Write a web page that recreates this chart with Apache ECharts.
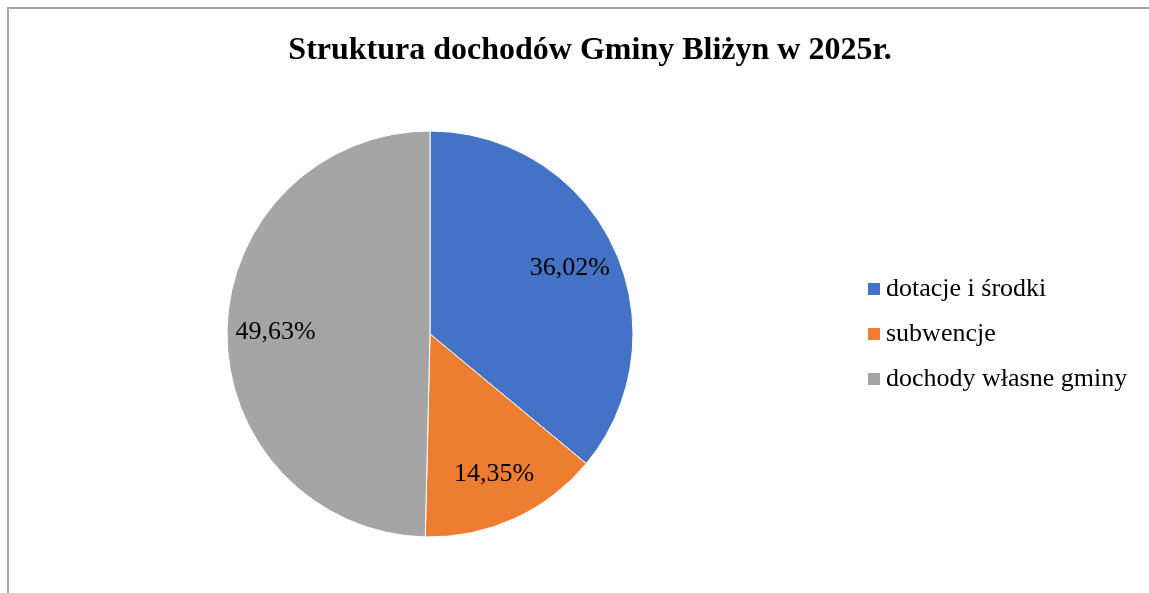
<!DOCTYPE html>
<html>
<head>
<meta charset="utf-8">
<script src="https://cdn.jsdelivr.net/npm/echarts@6/dist/echarts.min.js"></script>
<style>
  html, body { margin: 0; padding: 0; background: #fff; }
  #chart { width: 1149px; height: 593px; }
</style>
</head>
<body>
<div id="chart"></div>
<script>
const categories = ['dotacje i środki', 'subwencje', 'dochody własne gminy'];
const shares = [36.02, 14.35, 49.63];
const colors = ['#4472C4', '#ED7D31', '#A5A5A5'];

const pieData = categories.map((name, i) => ({ name: name, value: shares[i] }));
const fmt = p => p.value.toFixed(2).replace('.', ',') + '%';

let myChart = echarts.init(document.getElementById('chart'));
let option = {
  animation: false,
  color: colors,
  title: {
    text: 'Struktura dochodów Gminy Bliżyn w 2025r.',
    left: 585,
    top: 30,
    textAlign: 'center',
    textStyle: {
      fontFamily: 'Liberation Serif',
      fontWeight: 'bold',
      fontSize: 32,
      color: '#000'
    }
  },
  graphic: [
    {
      type: 'rect',
      shape: { x: 8, y: 8, width: 1300, height: 800 },
      style: { fill: 'none', stroke: '#a6a6a6', lineWidth: 2 },
      silent: true
    }
  ],
  legend: {
    orient: 'vertical',
    left: 866,
    top: 276,
    padding: 0,
    itemWidth: 14,
    itemHeight: 14,
    itemGap: 19,
    icon: 'rect',
    data: categories,
    textStyle: {
      fontFamily: 'Liberation Serif',
      fontSize: 26,
      color: '#000'
    }
  },
  series: [
    {
      type: 'pie',
      center: [430, 334],
      radius: 203,
      startAngle: 90,
      clockwise: true,
      data: pieData,
      label: { show: false },
      labelLine: { show: false },
      itemStyle: { borderColor: '#fff', borderWidth: 1 },
      emphasis: { disabled: true }
    },
    {
      // transparent ring used only to place the labels at ~3/4 of the radius
      type: 'pie',
      center: [430, 334],
      radius: [100, 203],
      startAngle: 90,
      clockwise: true,
      silent: true,
      data: pieData,
      itemStyle: { color: 'rgba(0,0,0,0)' },
      label: {
        show: true,
        position: 'inside',
        formatter: fmt,
        fontFamily: 'Liberation Serif',
        fontSize: 26,
        color: '#000'
      },
      labelLine: { show: false },
      emphasis: { disabled: true }
    }
  ]
};
myChart.setOption(option);
window.addEventListener('resize', function () {
  myChart.resize();
});
</script>
</body>
</html>
